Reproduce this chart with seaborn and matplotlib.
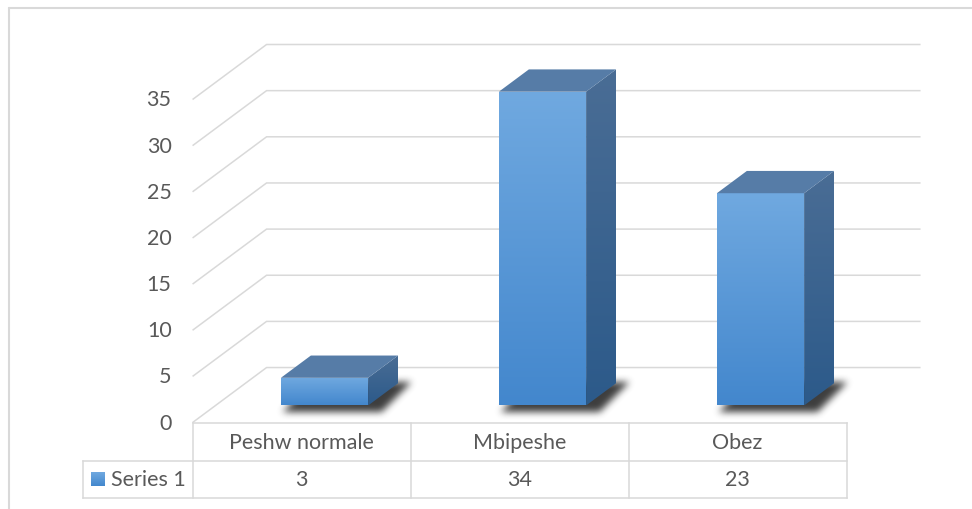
import numpy as np
import pandas as pd
import matplotlib
matplotlib.use("Agg")
import matplotlib.pyplot as plt
import seaborn as sns
from matplotlib.colors import to_rgb
from matplotlib.lines import Line2D
from matplotlib.path import Path
from matplotlib.patches import Polygon

# ---- data -------------------------------------------------------------
categories = ["Peshw normale", "Mbipeshe", "Obez"]
values = [3, 34, 23]
series_name = "Series 1"
y_ticks = [0, 5, 10, 15, 20, 25, 30, 35]

# ---- style ------------------------------------------------------------
W, H, DPI = 972, 510, 100
TEXT = "#595959"
GRID = "#d9d9d9"
FS = 15.5
FRONT_TOP, FRONT_BOT = "#70a9e0", "#4387cd"
SIDE_TOP, SIDE_BOT = "#4a6d95", "#2c5a8a"
TOP_FACE = "#567ca7"

sns.set_theme(style="white")
plt.rcParams["font.family"] = ["Lato", "DejaVu Sans"]

fig = plt.figure(figsize=(W / DPI, H / DPI), dpi=DPI, facecolor="white")
ax = fig.add_axes([0, 0, 1, 1])

df = pd.DataFrame({"category": categories, "value": values})
sns.barplot(data=df, x="category", y="value", order=categories, width=0.4,
            color=FRONT_BOT, errorbar=None, ax=ax, zorder=6)
bars = list(ax.patches)

# Bar front plane: category 0 centre at X0 px, UX px per category;
# value 0 at Y0 px from the top, UY px per unit.
X0, UX = 324.5, 218.0
Y0, UY = 406.5, 9.23
XLIM = (-X0 / UX, (W - X0) / UX)
YLIM = (-(H - Y0) / UY, Y0 / UY)


def set_limits():
    ax.set_xlim(*XLIM)
    ax.set_ylim(*YLIM)


set_limits()
ax.set_axis_off()

# Oblique depth projection (d = 0 front of floor, d = 1 back wall)
DX, DY = 74 / UX, 55 / UY
D_FRONT, D_BACK = 0.31, 0.715


def proj(x, v, d):
    return x + (d - D_FRONT) * DX, v + (d - D_FRONT) * DY


n = len(categories)
x_wall, x_end = -0.5, n - 0.5

# ---- walls: gridlines on side wall and back wall ------------------------
for t in y_ticks:
    fx, fy = proj(x_wall, t, 0)
    bx, by = proj(x_wall, t, 1)
    ex, ey = proj(x_end, t, 1)
    ax.plot([fx, bx, ex], [fy, by, ey], color=GRID, lw=1.1, zorder=1,
            solid_capstyle="butt", solid_joinstyle="miter")
    ax.annotate(str(t), (fx, fy), xytext=(-21, 0), textcoords="offset pixels",
                ha="right", va="center", color=TEXT, fontsize=FS)


# ---- helpers ------------------------------------------------------------
def gradient_fill(poly_xy, top, bottom, z):
    poly = Polygon(poly_xy, closed=True, facecolor="none", edgecolor="none")
    ax.add_patch(poly)
    xs = [p[0] for p in poly_xy]
    ys = [p[1] for p in poly_xy]
    g = np.linspace(0, 1, 256)[:, None]
    cols = (1 - g) * np.array(to_rgb(top)) + g * np.array(to_rgb(bottom))
    im = ax.imshow(cols[:, None, :], extent=(min(xs), max(xs), min(ys), max(ys)),
                   origin="upper", aspect="auto", zorder=z, interpolation="bilinear")
    im.set_clip_path(poly)
    return im


def box_blur(a, r):
    k = 2 * r + 1
    p = np.pad(a, ((r + 1, r), (0, 0)), mode="constant")
    c = np.cumsum(p, axis=0)
    a = (c[k:] - c[:-k]) / k
    p = np.pad(a, ((0, 0), (r + 1, r)), mode="constant")
    c = np.cumsum(p, axis=1)
    return (c[:, k:] - c[:, :-k]) / k


# ---- soft shadow under each bar -----------------------------------------
trans = ax.transData
yy, xx = np.mgrid[0:H, 0:W] + 0.5
pts = np.column_stack([xx.ravel(), yy.ravel()])
mask = np.zeros(H * W)
grow = np.array([[-6, -4], [6, -4], [6, 4], [-6, 4]])
for p in bars:
    x0, w, h = p.get_x(), p.get_width(), p.get_height()
    foot = [proj(x0, 0, D_FRONT), proj(x0 + w, 0, D_FRONT),
            proj(x0 + w, 0, D_BACK), proj(x0, 0, D_BACK)]
    pix = trans.transform(foot) + grow + np.array([7, -3])
    mask = np.maximum(mask, Path(pix).contains_points(pts).astype(float))
mask = mask.reshape(H, W)
for _ in range(3):
    mask = box_blur(mask, 3)
shadow = np.zeros((H, W, 4))
shadow[..., :3] = 0.16
shadow[..., 3] = np.clip(mask * 0.9, 0, 1)
ax.imshow(shadow, extent=(*XLIM, *YLIM), origin="lower", aspect="auto",
          zorder=3, interpolation="nearest")

# ---- 3-D bars ---------------------------------------------------------------
for p in bars:
    x0, w, h = p.get_x(), p.get_width(), p.get_height()
    p.set_facecolor("none")
    p.set_linewidth(0)
    front = [(x0, 0), (x0 + w, 0), (x0 + w, h), (x0, h)]
    gradient_fill(front, FRONT_TOP, FRONT_BOT, 6)
    side = [proj(x0 + w, 0, D_FRONT), proj(x0 + w, h, D_FRONT),
            proj(x0 + w, h, D_BACK), proj(x0 + w, 0, D_BACK)]
    gradient_fill(side, SIDE_TOP, SIDE_BOT, 6)
    top = [proj(x0, h, D_FRONT), proj(x0 + w, h, D_FRONT),
           proj(x0 + w, h, D_BACK), proj(x0, h, D_BACK)]
    ax.add_patch(Polygon(top, closed=True, facecolor=TOP_FACE,
                         edgecolor="none", zorder=6))

# ---- data table on the floor front ---------------------------------------
cols_x = [proj(i - 0.5, 0, 0)[0] for i in range(n + 1)]
v_top = proj(0, 0, 0)[1]
v_r1 = v_top - 38 / UY
v_r2 = v_top - 75 / UY
x_leg = cols_x[0] - 110 / UX
tbl = dict(color=GRID, lw=1.1, zorder=2, solid_capstyle="projecting")
ax.plot([cols_x[0], cols_x[-1]], [v_top, v_top], **tbl)
ax.plot([x_leg, cols_x[-1]], [v_r1, v_r1], **tbl)
ax.plot([x_leg, cols_x[-1]], [v_r2, v_r2], **tbl)
for cx in cols_x:
    ax.plot([cx, cx], [v_top, v_r2], **tbl)
ax.plot([x_leg, x_leg], [v_r1, v_r2], **tbl)

for i, (cat, val) in enumerate(zip(categories, values)):
    cx = (cols_x[i] + cols_x[i + 1]) / 2
    ax.text(cx, (v_top + v_r1) / 2, cat, ha="center", va="center",
            color=TEXT, fontsize=FS)
    ax.text(cx, (v_r1 + v_r2) / 2, str(val), ha="center", va="center",
            color=TEXT, fontsize=FS)

# legend key and series name
v_mid = (v_r1 + v_r2) / 2
kx0, kx1 = x_leg + 8 / UX, x_leg + 22 / UX
ky0, ky1 = v_mid - 7 / UY, v_mid + 7 / UY
gradient_fill([(kx0, ky0), (kx1, ky0), (kx1, ky1), (kx0, ky1)],
              FRONT_TOP, FRONT_BOT, 4)
ax.text(x_leg + 28 / UX, v_mid, series_name, ha="left", va="center",
        color=TEXT, fontsize=FS)

set_limits()

# chart area border
fig.add_artist(Line2D([8.5 / W, 1], [1 - 8.5 / H, 1 - 8.5 / H],
                      transform=fig.transFigure, color=GRID, lw=1.5))
fig.add_artist(Line2D([8.5 / W, 8.5 / W], [0, 1 - 8.5 / H],
                      transform=fig.transFigure, color=GRID, lw=1.5))

fig.savefig("out.png", dpi=DPI, facecolor="white")
